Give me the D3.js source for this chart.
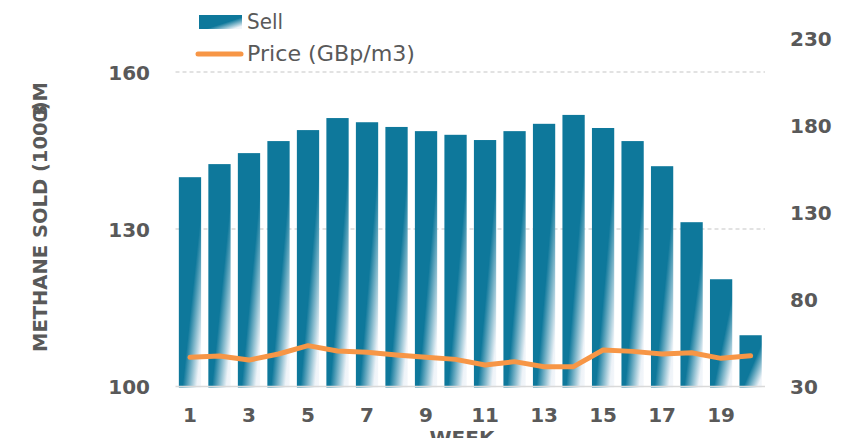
<!DOCTYPE html>
<html><head><meta charset="utf-8">
<script src="https://cdn.jsdelivr.net/npm/d3@7"></script>
<style>
html,body{margin:0;padding:0;background:#fff;overflow:hidden}
text{font-family:"DejaVu Sans",Verdana,sans-serif;fill:#595959}
</style></head>
<body><svg id="c" width="853" height="438"></svg>
<script>
const weeks = d3.range(1, 21);
const sell = [139.9,142.4,144.5,146.8,148.9,151.2,150.4,149.5,148.7,148.0,147.0,148.7,150.1,151.8,149.3,146.8,142.0,131.3,120.4,109.7];
const price = [46.5,47.2,44.9,48.4,53.2,50.1,49.4,47.8,46.5,45.3,42.1,44.0,41.1,41.1,50.7,49.9,48.4,49.1,45.9,47.4];
const leftTicks = [100,130,160];
const rightTicks = [30,80,130,180,230];
const xTickLabels = [1,3,5,7,9,11,13,15,17,19];

const svg = d3.select("#c");
const barColor = "#0e789b", lineColor = "#f79646";

const x = d3.scaleBand().domain(weeks).range([175.3, 765.3]).paddingInner(0.245).paddingOuter(0.12);
const yL = d3.scaleLinear().domain([100,160]).range([386,72]);
const yR = d3.scaleLinear().domain([30,230]).range([386,38]);

const defs = svg.append("defs");
const g = defs.append("linearGradient").attr("id","bg").attr("x1",0).attr("y1",0).attr("x2",1).attr("y2",1);
g.append("stop").attr("offset",0).attr("stop-color",barColor);
g.append("stop").attr("offset",0.58).attr("stop-color",barColor);
g.append("stop").attr("offset",0.9).attr("stop-color","#eef3f8");
g.append("stop").attr("offset",1).attr("stop-color","#f4f7fb");

// gridlines
svg.append("g").selectAll("line").data(leftTicks.filter(d=>d>100)).join("line")
  .attr("x1",175.5).attr("x2",765).attr("y1",d=>yL(d)).attr("y2",d=>yL(d))
  .attr("stroke","#d9d9d9").attr("stroke-width",1.3).attr("stroke-dasharray","4,3");

// bars
svg.append("g").selectAll("rect").data(weeks).join("rect")
  .attr("x",d=>x(d)).attr("width",x.bandwidth())
  .attr("y",(d,i)=>yL(sell[i])).attr("height",(d,i)=>yL(100)-yL(sell[i])+1.5)
  .attr("fill","url(#bg)");

// baseline
svg.append("line").attr("x1",175.5).attr("x2",765).attr("y1",386.5).attr("y2",386.5)
  .attr("stroke","#d9d9d9").attr("stroke-width",1.5);

// price line
const line = d3.line().x((d,i)=>x(weeks[i])+x.bandwidth()/2).y(d=>yR(d));
svg.append("path").datum(price).attr("d",line).attr("fill","none")
  .attr("stroke",lineColor).attr("stroke-width",5).attr("stroke-linejoin","round").attr("stroke-linecap","round");

// left axis
const axL = d3.axisLeft(yL).tickValues(leftTicks).tickSize(0).tickPadding(0);
const gL = svg.append("g").attr("transform","translate(150,0)").call(axL);
gL.select(".domain").remove();
gL.selectAll("text").attr("font-size",20).attr("font-weight","bold").attr("fill","#595959")
  .style("font-family","'DejaVu Sans',sans-serif").attr("dy","0.36em");

// right axis
const axR = d3.axisRight(yR).tickValues(rightTicks).tickSize(0).tickPadding(0);
const gR = svg.append("g").attr("transform","translate(790,0)").call(axR);
gR.select(".domain").remove();
gR.selectAll("text").attr("font-size",20).attr("font-weight","bold").attr("fill","#595959")
  .style("font-family","'DejaVu Sans',sans-serif").attr("dy","0.36em");

// x axis
const axX = d3.axisBottom(x).tickValues(xTickLabels).tickSize(0).tickPadding(0);
const gX = svg.append("g").attr("transform","translate(0,408)").call(axX);
gX.select(".domain").remove();
gX.selectAll("text").attr("font-size",20).attr("font-weight","bold").attr("fill","#595959")
  .style("font-family","'DejaVu Sans',sans-serif").attr("dy","0.72em");

// axis titles
svg.append("text").attr("x",462).attr("y",445).attr("text-anchor","middle")
  .attr("font-size",20).attr("font-weight","bold").text("WEEK");
const yt = svg.append("text").attr("transform","translate(47,217) rotate(-90)").attr("text-anchor","middle")
  .attr("font-size",19.5).attr("font-weight","bold");
yt.append("tspan").text("METHANE SOLD (1000");
yt.append("tspan").attr("dx",-9).text("3");
yt.append("tspan").attr("dx",-6).text(")M");

// right title (cut off at edge, as in the reference)
svg.append("text").attr("transform","translate(865,200) rotate(90)").attr("text-anchor","middle")
  .attr("font-size",18).attr("font-weight","bold").text("PRICE (GBp/m3)");

// legend
svg.append("rect").attr("x",199).attr("y",15).attr("width",43).attr("height",14).attr("fill","url(#bg)");
svg.append("text").attr("x",247).attr("y",29).attr("font-size",20.5)
  .attr("textLength",36).attr("lengthAdjust","spacingAndGlyphs").text("Sell");
svg.append("line").attr("x1",198).attr("x2",241).attr("y1",54).attr("y2",54)
  .attr("stroke",lineColor).attr("stroke-width",5).attr("stroke-linecap","round");
svg.append("text").attr("x",247).attr("y",61).attr("font-size",20.5)
  .attr("textLength",168).attr("lengthAdjust","spacingAndGlyphs").text("Price (GBp/m3)");
</script></body></html>
